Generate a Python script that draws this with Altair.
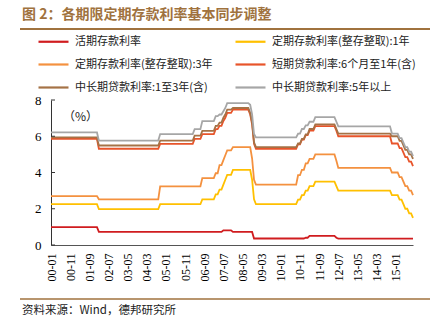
import altair as alt
import pandas as pd

# ---------------- data (rate change events, % ) ----------------
series_names = [
    "活期存款利率",
    "定期存款利率(整存整取):1年",
    "定期存款利率(整存整取):3年",
    "短期贷款利率:6个月至1年(含)",
    "中长期贷款利率:1至3年(含)",
    "中长期贷款利率:5年以上",
]
series_colors = ["#d01c1f", "#ffc000", "#f4913f", "#e8542a", "#a57246", "#a6a6a6"]

demand_dates = ["2000-01", "2002-02", "2007-07", "2007-12", "2008-11",
                "2011-02", "2011-04", "2012-06", "2012-07"]
demand_rates = [0.99, 0.72, 0.81, 0.72, 0.36, 0.40, 0.50, 0.40, 0.35]

deposit_dates = ["2000-01", "2002-02", "2004-10", "2006-08", "2007-03", "2007-05",
                 "2007-07", "2007-08", "2007-09", "2007-12", "2008-10", "2008-11",
                 "2008-12", "2010-10", "2010-12", "2011-02", "2011-04", "2011-07",
                 "2012-06", "2012-07", "2014-11", "2015-03", "2015-05", "2015-06",
                 "2015-08", "2015-10"]
dep_1y_rates = [2.25, 1.98, 2.25, 2.52, 2.79, 3.06, 3.33, 3.60, 3.87, 4.14, 3.60, 2.52,
                2.25, 2.50, 2.75, 3.00, 3.25, 3.50, 3.25, 3.00, 2.75, 2.50, 2.25, 2.00,
                1.75, 1.50]
dep_3y_rates = [2.70, 2.52, 3.24, 3.69, 3.96, 4.41, 4.68, 4.95, 5.22, 5.40, 4.77, 3.60,
                3.33, 3.85, 4.15, 4.50, 4.75, 5.00, 4.65, 4.25, 4.00, 3.75, 3.50, 3.25,
                3.00, 2.75]

loan_dates = ["2000-01", "2002-02", "2004-10", "2006-04", "2006-08", "2007-03", "2007-05",
              "2007-07", "2007-08", "2007-09", "2007-12", "2008-09", "2008-10", "2008-11",
              "2008-12", "2010-10", "2010-12", "2011-02", "2011-04", "2011-07", "2012-06",
              "2012-07", "2014-11", "2015-03", "2015-05", "2015-06", "2015-08", "2015-10"]
loan_short_rates = [5.85, 5.31, 5.58, 5.85, 6.12, 6.39, 6.57, 6.84, 7.02, 7.29, 7.47, 7.20,
                    6.66, 5.58, 5.31, 5.56, 5.81, 6.06, 6.31, 6.56, 6.31, 6.00, 5.60, 5.35,
                    5.10, 4.85, 4.60, 4.35]
loan_1_3y_rates = [5.94, 5.49, 5.76, 6.03, 6.30, 6.57, 6.75, 7.02, 7.20, 7.47, 7.56, 7.29,
                   6.75, 5.67, 5.40, 5.60, 5.85, 6.10, 6.40, 6.65, 6.40, 6.15, 6.00, 5.75,
                   5.50, 5.25, 5.00, 4.75]
loan_5y_rates = [6.21, 5.76, 6.12, 6.39, 6.84, 7.11, 7.20, 7.38, 7.56, 7.83, 7.83, 7.74,
                 7.20, 6.12, 5.94, 6.14, 6.40, 6.60, 6.80, 7.05, 6.80, 6.55, 6.15, 5.90,
                 5.65, 5.40, 5.15, 4.90]

tick_labels = ["00-01", "00-11", "01-09", "02-07", "03-05", "04-03", "05-01", "05-11",
               "06-09", "07-07", "08-05", "09-03", "10-01", "10-11", "11-09", "12-07",
               "13-05", "14-03", "15-01"]
y_ticks = [0, 2, 4, 6, 8]

title_text = "图 2：各期限定期存款利率基本同步调整"
source_text = "资料来源：Wind，德邦研究所"
unit_text = "（%）"

# ---------------- monthly table (rate in effect at month end) ----------------
months = []
for yr in range(2000, 2016):
    for mo in range(1, 13):
        if yr == 2015 and mo > 10:
            break
        months.append(f"{yr}-{mo:02d}")
month_labels = [m[2:] for m in months]


def in_effect(dates, rates):
    out, j, cur = [], 0, None
    for m in months:
        while j < len(dates) and dates[j] <= m:
            cur = rates[j]
            j += 1
        out.append(cur)
    return out


events = [
    (demand_dates, demand_rates),
    (deposit_dates, dep_1y_rates),
    (deposit_dates, dep_3y_rates),
    (loan_dates, loan_short_rates),
    (loan_dates, loan_1_3y_rates),
    (loan_dates, loan_5y_rates),
]
rows = []
for name, (d, r) in zip(series_names, events):
    for lab, v in zip(month_labels, in_effect(d, r)):
        rows.append({"month": lab, "series": name, "value": v})
df = pd.DataFrame(rows)

serif = "Liberation Serif"
cjk = "Noto Sans CJK SC"
brown = "#a0723e"

y_axis = alt.Axis(values=y_ticks, grid=False, ticks=False, labelFont=serif,
                  labelFontSize=13, labelColor="#000", labelPadding=10,
                  domainColor="#333", title=None)

lines = alt.Chart(df).mark_line(strokeWidth=1.8).encode(
    x=alt.X("month:O",
            scale=alt.Scale(type="point", padding=0, domain=month_labels),
            axis=alt.Axis(values=tick_labels, labelAngle=270, labelAlign="right",
                          labelBaseline="middle", labelFont=serif, labelFontSize=12,
                          labelColor="#000", labelPadding=8, ticks=False,
                          domainColor="#555", title=None)),
    y=alt.Y("value:Q", scale=alt.Scale(domain=[0, 8]), axis=y_axis),
    color=alt.Color("series:N",
                    scale=alt.Scale(domain=series_names, range=series_colors),
                    legend=alt.Legend(orient="none", legendX=-4, legendY=-65, columns=2,
                                      direction="horizontal",
                                      symbolType="M-3,0H3", symbolSize=100,
                                      symbolStrokeWidth=2.2, labelFont=cjk,
                                      labelFontSize=11, labelColor="#222", labelOffset=15,
                                      columnPadding=18, rowPadding=11, title=None,
                                      labelLimit=300)),
    detail="series:N",
)

yt = alt.Chart(pd.DataFrame({"value": y_ticks})).mark_rule(color="#333").encode(
    y=alt.Y("value:Q", axis=y_axis), x=alt.value(0), x2=alt.value(4))

one = pd.DataFrame({"a": [0]})
title = alt.Chart(pd.DataFrame({"t": [title_text]})).mark_text(
    align="left", baseline="middle", font=cjk, fontSize=14, fontWeight="bold", color=brown
).encode(x=alt.value(-29), y=alt.value(-85), text="t:N")
title_rule = alt.Chart(one).mark_rule(color=brown, strokeWidth=2).encode(
    x=alt.value(-31), x2=alt.value(379), y=alt.value(-71))
foot_rule = alt.Chart(one).mark_rule(color=brown, strokeWidth=1.5).encode(
    x=alt.value(-31), x2=alt.value(379), y=alt.value(199))
foot = alt.Chart(pd.DataFrame({"t": [source_text]})).mark_text(
    align="left", baseline="middle", font=cjk, fontSize=11.5, color="#222"
).encode(x=alt.value(-29), y=alt.value(211), text="t:N")
unit = alt.Chart(pd.DataFrame({"t": [unit_text]})).mark_text(
    align="left", baseline="middle", font=cjk, fontSize=12, color="#222"
).encode(x=alt.value(12), y=alt.value(17), text="t:N")

chart = alt.layer(lines, yt, title, title_rule, foot_rule, foot, unit).properties(
    width=362, height=145,
    padding={"left": 51, "top": 100, "right": 30, "bottom": 76},
    autosize=alt.AutoSizeParams(type="none"),
    background="white",
).configure_view(stroke=None)

chart.save("out.html", embed_options={"renderer": "svg", "actions": False})
